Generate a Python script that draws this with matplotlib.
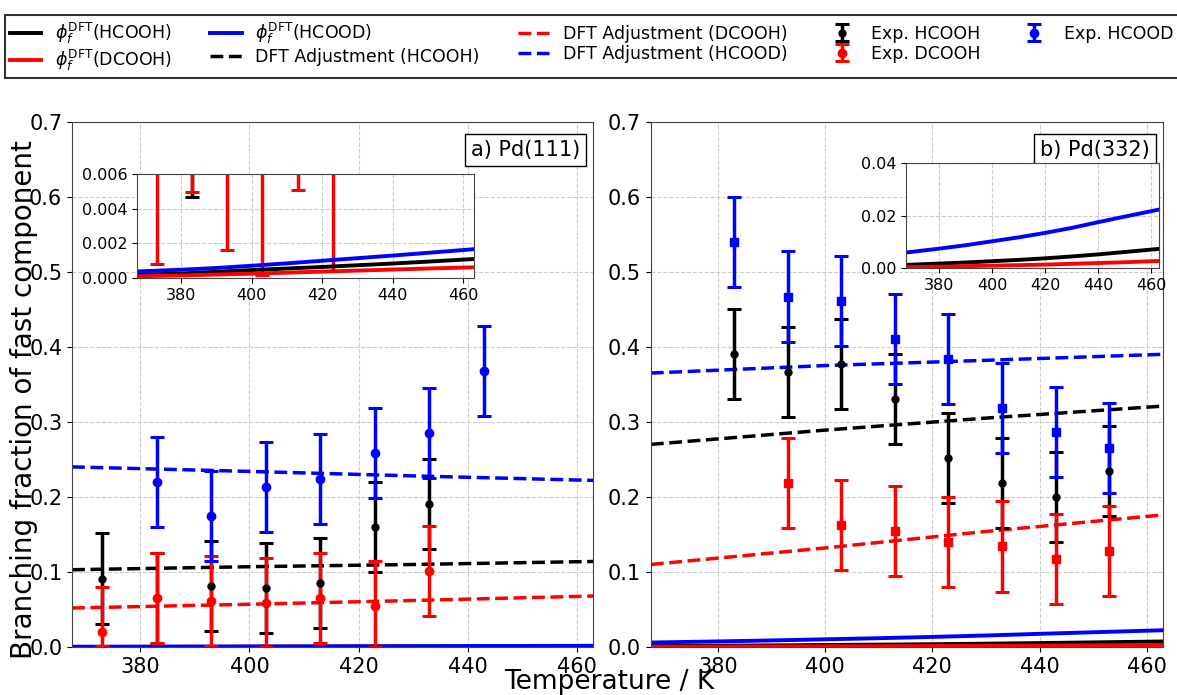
import numpy as np
import matplotlib
matplotlib.use("Agg")
import matplotlib.pyplot as plt

# ---------------- data ----------------
T_dft = [367.5, 380, 390, 400, 410, 420, 430, 440, 450, 463]

# Pd(111) DFT branching fraction (solid)
phi111_hcooh = [0.00019, 0.00026, 0.00036, 0.00046, 0.00055, 0.00064, 0.00074, 0.00084, 0.00095, 0.00110]
phi111_dcooh = [0.00010, 0.00015, 0.00020, 0.00025, 0.00031, 0.00037, 0.00043, 0.00049, 0.00055, 0.00062]
phi111_hcood = [0.00038, 0.00048, 0.00058, 0.00071, 0.00085, 0.00100, 0.00115, 0.00130, 0.00146, 0.00167]

# Pd(332) DFT branching fraction (solid)
phi332_hcooh = [0.0013, 0.0018, 0.0022, 0.0027, 0.0032, 0.0038, 0.0045, 0.0053, 0.0062, 0.0074]
phi332_dcooh = [0.0004, 0.0006, 0.0008, 0.0010, 0.0012, 0.0014, 0.0017, 0.0020, 0.0023, 0.0028]
phi332_hcood = [0.0060, 0.0075, 0.0088, 0.0103, 0.0118, 0.0135, 0.0154, 0.0176, 0.0197, 0.0224]

# DFT adjustment (dashed)
T_adj = [367.5, 400, 430, 463]
adj111_hcooh = [0.103, 0.107, 0.110, 0.114]
adj111_dcooh = [0.052, 0.057, 0.062, 0.068]
adj111_hcood = [0.240, 0.234, 0.228, 0.222]
adj332_hcooh = [0.270, 0.289, 0.305, 0.321]
adj332_dcooh = [0.110, 0.132, 0.154, 0.176]
adj332_hcood = [0.365, 0.375, 0.382, 0.390]

# experiments, Pd(111)
T111_hcooh = [373, 383, 393, 403, 413, 423, 433]
exp111_hcooh = [0.091, 0.0647, 0.081, 0.079, 0.085, 0.160, 0.190]
lo111_hcooh = [0.060, 0.060, 0.060, 0.060, 0.060, 0.060, 0.060]
hi111_hcooh = [0.061, 0.060, 0.060, 0.060, 0.060, 0.060, 0.060]

T111_dcooh = [373, 383, 393, 403, 413, 423, 433]
exp111_dcooh = [0.020, 0.065, 0.0616, 0.059, 0.0651, 0.055, 0.101]
lo111_dcooh = [0.0192, 0.060, 0.060, 0.0588, 0.060, 0.0546, 0.060]
hi111_dcooh = [0.060, 0.060, 0.060, 0.060, 0.060, 0.060, 0.060]

T111_hcood = [383, 393, 403, 413, 423, 433, 443]
exp111_hcood = [0.220, 0.174, 0.213, 0.224, 0.258, 0.285, 0.368]
err111_hcood = [0.060, 0.060, 0.060, 0.060, 0.060, 0.060, 0.060]

# experiments, Pd(332)
T332_hcooh = [383, 393, 403, 413, 423, 433, 443, 453]
exp332_hcooh = [0.390, 0.367, 0.377, 0.330, 0.252, 0.219, 0.200, 0.235]
err332_hcooh = [0.060, 0.060, 0.060, 0.060, 0.060, 0.060, 0.060, 0.060]

T332_dcooh = [393, 403, 413, 423, 433, 443, 453]
exp332_dcooh = [0.219, 0.162, 0.155, 0.140, 0.134, 0.117, 0.128]
err332_dcooh = [0.060, 0.060, 0.060, 0.060, 0.060, 0.060, 0.060]

T332_hcood = [383, 393, 403, 413, 423, 433, 443, 453]
exp332_hcood = [0.540, 0.467, 0.461, 0.410, 0.384, 0.318, 0.287, 0.265]
err332_hcood = [0.060, 0.060, 0.060, 0.060, 0.060, 0.060, 0.060, 0.060]

BLK, RED, BLU = "black", "#ff0000", "#0000ff"
XLIM = (367.5, 463)

fig = plt.figure(figsize=(11.77, 6.95), dpi=100)
ax1 = fig.add_axes([0.0612, 0.069, 0.4428, 0.756])
ax2 = fig.add_axes([0.553, 0.069, 0.435, 0.756])
in1 = fig.add_axes([0.1167, 0.600, 0.2860, 0.149])
in2 = fig.add_axes([0.770, 0.614, 0.2150, 0.151])


def style(ax, tsize):
    ax.grid(True, ls="--", color="#cccccc", lw=0.8)
    ax.set_axisbelow(True)
    ax.tick_params(labelsize=tsize)
    for s in ax.spines.values():
        s.set_color("#444444")


def draw_lines(ax, phi, adj=None):
    for y, c in zip(phi, (BLK, RED, BLU)):
        ax.plot(T_dft, y, color=c, lw=2.8)
    if adj is not None:
        for y, c in zip(adj, (BLK, RED, BLU)):
            ax.plot(T_adj, y, color=c, lw=2.5, ls="--")


eb = dict(lw=2.5, capsize=5, capthick=2.2)

# ---- panel a) Pd(111)
draw_lines(ax1, (phi111_hcooh, phi111_dcooh, phi111_hcood),
           (adj111_hcooh, adj111_dcooh, adj111_hcood))
for ax in (ax1, in1):
    ax.errorbar(T111_hcooh, exp111_hcooh, yerr=[lo111_hcooh, hi111_hcooh],
                fmt="o", color=BLK, ms=5, **eb)
    ax.errorbar(T111_dcooh, exp111_dcooh, yerr=[lo111_dcooh, hi111_dcooh],
                fmt="o", color=RED, ms=6, **eb)
    ax.errorbar(T111_hcood, exp111_hcood, yerr=err111_hcood,
                fmt="o", color=BLU, ms=6, **eb)
draw_lines(in1, (phi111_hcooh, phi111_dcooh, phi111_hcood))

# ---- panel b) Pd(332)
draw_lines(ax2, (phi332_hcooh, phi332_dcooh, phi332_hcood),
           (adj332_hcooh, adj332_dcooh, adj332_hcood))
ax2.errorbar(T332_hcooh, exp332_hcooh, yerr=err332_hcooh,
             fmt="o", color=BLK, ms=5, **eb)
ax2.errorbar(T332_dcooh, exp332_dcooh, yerr=err332_dcooh,
             fmt="s", color=RED, ms=6, **eb)
ax2.errorbar(T332_hcood, exp332_hcood, yerr=err332_hcood,
             fmt="s", color=BLU, ms=6, **eb)
draw_lines(in2, (phi332_hcooh, phi332_dcooh, phi332_hcood))

for ax in (ax1, ax2):
    ax.set_xlim(*XLIM)
    ax.set_ylim(0, 0.7)
    ax.set_xticks([380, 400, 420, 440, 460])
    ax.set_yticks(np.arange(0, 0.71, 0.1))
    ax.set_yticklabels([f"{v:.1f}" for v in np.arange(0, 0.71, 0.1)])
    style(ax, 15)

in1.set_xlim(*XLIM)
in1.set_ylim(0, 0.006)
in1.set_yticks([0, 0.002, 0.004, 0.006])
in1.set_yticklabels(["0.000", "0.002", "0.004", "0.006"])
in2.set_xlim(*XLIM)
in2.set_ylim(0, 0.04)
in2.set_yticks([0, 0.02, 0.04])
in2.set_yticklabels(["0.00", "0.02", "0.04"])
for ax in (in1, in2):
    ax.set_xticks([380, 400, 420, 440, 460])
    style(ax, 11.5)

box = dict(boxstyle="square,pad=0.3", fc="white", ec="black", lw=1.0)
ax1.text(0.975, 0.965, "a) Pd(111)", transform=ax1.transAxes, ha="right",
         va="top", fontsize=15, bbox=box)
ax2.text(0.975, 0.965, "b) Pd(332)", transform=ax2.transAxes, ha="right",
         va="top", fontsize=15, bbox=box)

fig.text(0.020, 0.425, "Branching fraction of fast component", fontsize=20,
         rotation=90, ha="center", va="center")
fig.text(0.518, 0.0, "Temperature / K", fontsize=19, ha="center", va="bottom")

# ---- legend (handles from panel a)
h = ax1.get_lines()
handles = [h[0], h[1], h[2], h[3], h[4], h[5]]
ebs = ax1.containers[:3]
labels = [r"$\phi_f^{\rm DFT}$(HCOOH)", r"$\phi_f^{\rm DFT}$(DCOOH)",
          r"$\phi_f^{\rm DFT}$(HCOOD)", "DFT Adjustment (HCOOH)",
          "DFT Adjustment (DCOOH)", "DFT Adjustment (HCOOD)",
          "Exp. HCOOH", "Exp. DCOOH", "Exp. HCOOD"]
leg = fig.legend(handles + list(ebs), labels, ncol=5,
                 loc="upper left", bbox_to_anchor=(0.004, 0.978),
                 fontsize=12.5, fancybox=False, edgecolor="black",
                 handlelength=1.8, handletextpad=0.8, borderaxespad=0,
                 columnspacing=2.2, borderpad=0.3, labelspacing=0.12)
leg.get_frame().set_linewidth(1.5)

fig.savefig("out.png", dpi=100)
